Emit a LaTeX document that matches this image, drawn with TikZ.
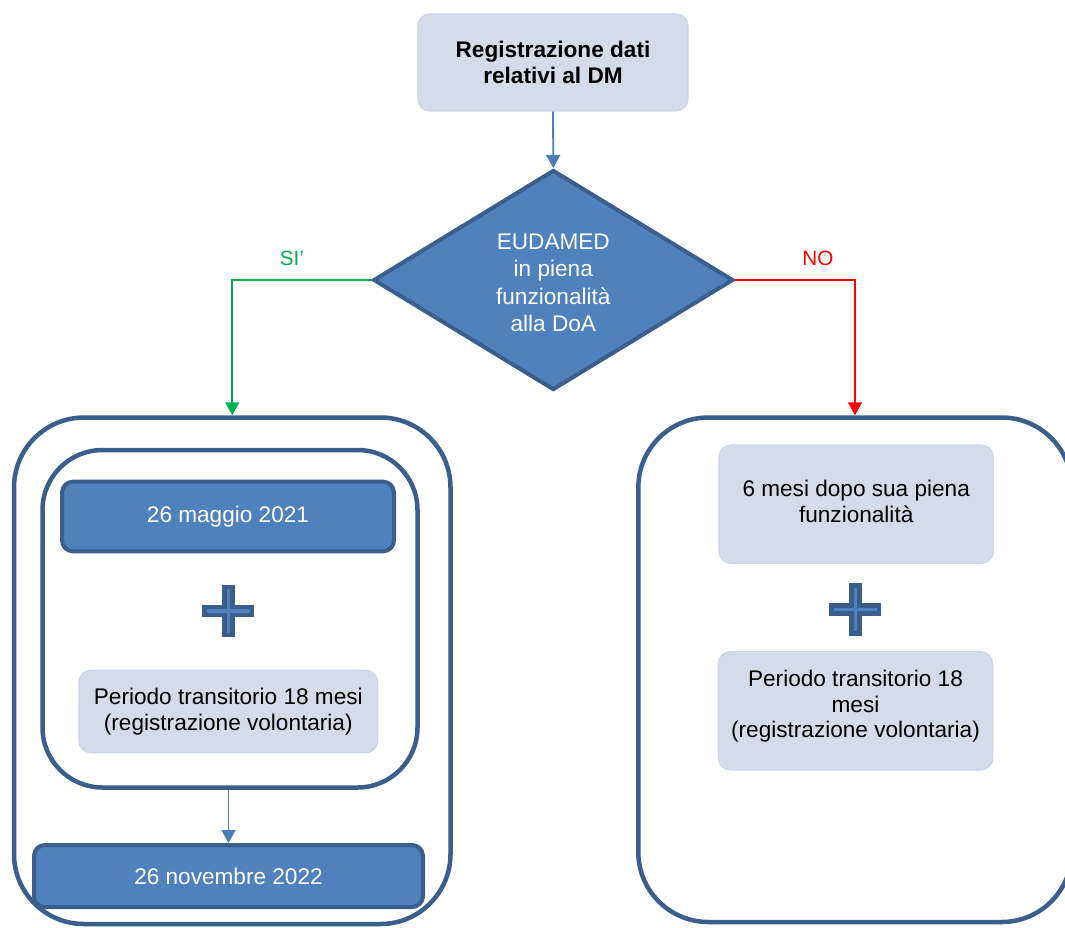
\documentclass[tikz,border=0pt]{standalone}
\usepackage{fontspec}
\setmainfont{Liberation Sans}
\usetikzlibrary{shapes.geometric,arrows.meta}
\definecolor{dblue}{HTML}{4F81BD}
\definecolor{bord}{HTML}{3B5F8C}
\definecolor{lightf}{HTML}{D4DBEA}
\definecolor{lightb}{HTML}{CCD5E6}
\definecolor{conn}{HTML}{4A7EBB}
\definecolor{sgreen}{HTML}{00B050}
\definecolor{sred}{HTML}{FF0000}
\begin{document}
\begin{tikzpicture}[x=1pt,y=-1pt,
  txt/.style={font=\fontsize{22.6pt}{25.5pt}\selectfont, align=center},
  darkbox/.style={txt, rectangle, rounded corners=11pt, fill=dblue, draw=bord, line width=4pt, text=white, inner sep=0pt},
  lightbox/.style={txt, rectangle, rounded corners=12pt, fill=lightf, draw=lightb, line width=1.2pt, inner sep=0pt},
  bigbox/.style={rectangle, draw=bord, line width=4.5pt, fill=white, inner sep=0pt},
  arr/.style={line width=1.8pt, -{Triangle[length=13pt,width=14pt]}},
  lbl/.style={font=\fontsize{20.7pt}{24pt}\selectfont},
  plussign/.pic={\draw[fill=dblue, draw=bord, line width=4.5pt]
    (-23.8,-4) -- (-4,-4) -- (-4,-23.8) -- (4,-23.8) -- (4,-4) -- (23.8,-4) -- (23.8,4)
    -- (4,4) -- (4,23.8) -- (-4,23.8) -- (-4,4) -- (-23.8,4) -- cycle;}
]
\clip (0,0) rectangle (1065,927);
\fill[white] (0,0) rectangle (1065,927);

% top box
\node[lightbox, font=\fontsize{22.6pt}{25.5pt}\selectfont\bfseries, minimum width=270pt, minimum height=97pt] (T) at (553,62.5) {Registrazione dati\\relativi al DM};

% decision diamond
\node[diamond, fill=dblue, draw=bord, line width=4pt, inner sep=0pt,
      minimum width=360pt, minimum height=220pt,
      label={[txt, text=white, font=\fontsize{22.6pt}{27.5pt}\selectfont, yshift=-3pt]center:EUDAMED\\in piena\\funzionalità\\alla DoA}] (D) at (553.3,280) {};

% left branch
\node[bigbox, rounded corners=70pt, minimum width=436.5pt, minimum height=506.5pt] (L) at (232.25,670.75) {};
\node[bigbox, rounded corners=60pt, minimum width=375pt, minimum height=337.5pt] (I) at (230,618.75) {};
\node[darkbox, minimum width=332pt, minimum height=69.7pt] (M) at (228,516.5) {26 maggio 2021};
\pic at (228.3,611) {plussign};
\node[lightbox, minimum width=298.7pt, minimum height=82.4pt] (P) at (228.3,711.5) {Periodo transitorio 18 mesi\\(registrazione volontaria)};
\node[darkbox, minimum width=389pt, minimum height=62pt] (N) at (228.5,876) {26 novembre 2022};

% right branch
\node[bigbox, rounded corners=70pt, minimum width=433.4pt, minimum height=504.5pt] (R) at (855,669.75) {};
\node[lightbox, minimum width=274.3pt, minimum height=118.3pt,
      label={[txt, yshift=3pt]center:6 mesi dopo sua piena\\funzionalità}] (S) at (856.2,504.2) {};
\pic at (855.3,609.5) {plussign};
\node[lightbox, minimum width=274.4pt, minimum height=118.3pt,
      label={[txt, yshift=4.5pt]center:Periodo transitorio 18\\mesi\\(registrazione volontaria)}] (Q) at (855.5,710.8) {};

% connectors
\draw[arr, conn] (T.south) -- (D.north);
\draw[arr, sgreen] (D.west) -| (L.north);
\draw[arr, sred] (D.east) -| (R.north);
\draw[arr, conn] (N.north |- I.south) -- (N.north);

% labels
\node[lbl, text=sgreen] (si) at (292,258) {SI’};
\node[lbl, text=sred] (no) at (818,258) {NO};
\end{tikzpicture}
\end{document}
